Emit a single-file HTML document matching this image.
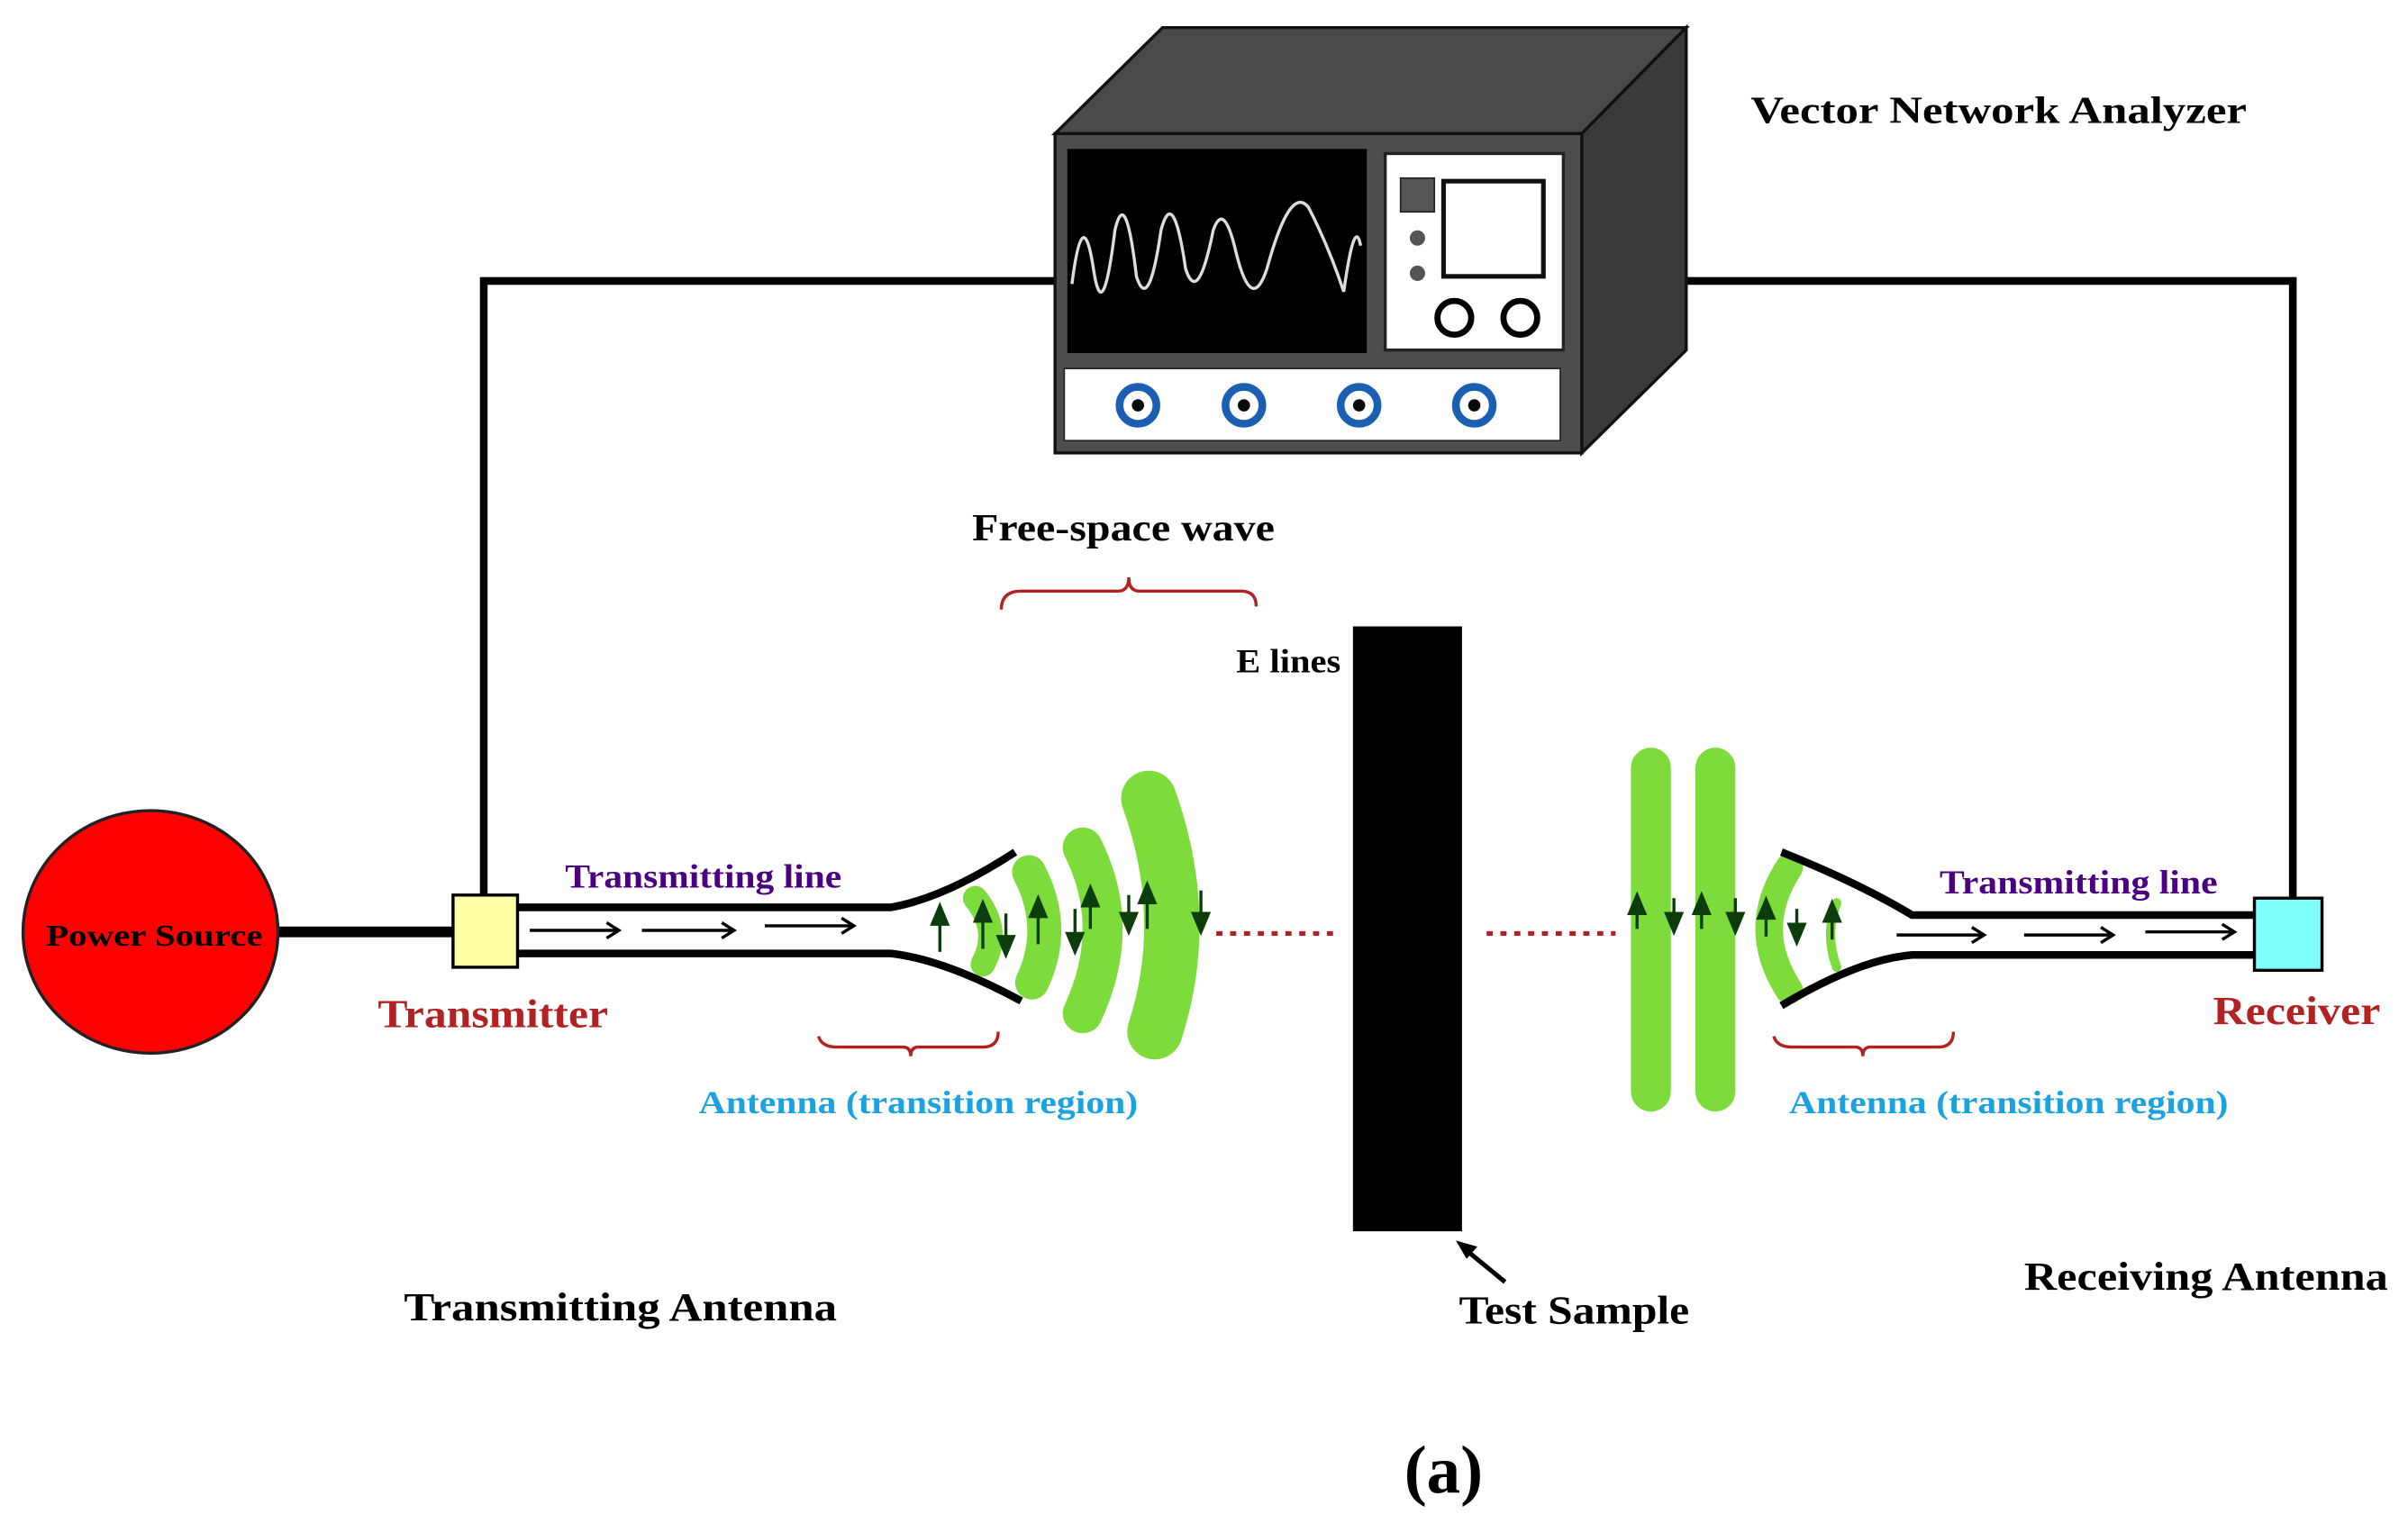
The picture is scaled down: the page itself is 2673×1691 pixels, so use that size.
<!DOCTYPE html>
<html><head><meta charset="utf-8"><style>
html,body{margin:0;padding:0;background:#fff;}
svg{display:block;}
text{font-family:"Liberation Serif",serif;font-weight:bold;}
</style></head><body>
<svg width="2673" height="1691" viewBox="0 0 1568 992" preserveAspectRatio="none" xmlns="http://www.w3.org/2000/svg">
<rect width="1568" height="992" fill="#fff"/>
<!-- wires -->
<polyline points="315,585 315,183 690,183" fill="none" stroke="#000" stroke-width="5"/>
<polyline points="1095,183 1493,183 1493,585" fill="none" stroke="#000" stroke-width="5"/>
<!-- VNA -->
<polygon points="687,87 757,18 1098,18 1030,87" fill="#4a4a4a" stroke="#111" stroke-width="2"/>
<polygon points="1030,87 1098,18 1098,228 1030,295" fill="#3a3a3a" stroke="#111" stroke-width="2"/>
<rect x="687" y="87" width="343" height="208" fill="#4d4d4d" stroke="#111" stroke-width="2"/>
<rect x="695" y="97" width="195" height="133" fill="#000"/>
<path d="M698,185 Q705,130 712,175 Q718,215 726,150 Q733,120 740,180 Q748,205 756,150 Q764,120 772,175 Q780,200 790,150 Q797,130 805,165 Q815,205 825,175 Q840,120 852,135 Q865,160 875,190 Q882,140 886,160" fill="none" stroke="#ddd" stroke-width="2"/>
<rect x="902" y="100" width="116" height="128" fill="#fff" stroke="#222" stroke-width="2"/>
<rect x="912" y="116" width="22" height="22" fill="#555" stroke="#222"/>
<circle cx="923" cy="155" r="5" fill="#555"/>
<circle cx="923" cy="178" r="5" fill="#555"/>
<rect x="940" y="118" width="65" height="62" fill="#fff" stroke="#111" stroke-width="3"/>
<circle cx="947" cy="207" r="11" fill="#fff" stroke="#000" stroke-width="4"/>
<circle cx="990" cy="207" r="11" fill="#fff" stroke="#000" stroke-width="4"/>
<rect x="693" y="240" width="323" height="47" fill="#fff" stroke="#222"/>
<g fill="#fff" stroke="#1a5fb4" stroke-width="5">
<circle cx="741" cy="264" r="12"/><circle cx="810" cy="264" r="12"/><circle cx="885" cy="264" r="12"/><circle cx="960" cy="264" r="12"/>
</g>
<g fill="#0a0a0a"><circle cx="741" cy="264" r="4"/><circle cx="810" cy="264" r="4"/><circle cx="885" cy="264" r="4"/><circle cx="960" cy="264" r="4"/></g>
<text x="1140" y="80" font-size="25" textLength="323" lengthAdjust="spacingAndGlyphs">Vector Network Analyzer</text>
<!-- power source -->
<line x1="180" y1="607" x2="296" y2="607" stroke="#000" stroke-width="7"/>
<ellipse cx="98" cy="607" rx="83" ry="79" fill="#f00" stroke="#222" stroke-width="2"/>
<text x="30" y="616" font-size="20" textLength="141" lengthAdjust="spacingAndGlyphs">Power Source</text>
<!-- green waves -->
<g fill="none" stroke="#7ddb3c" stroke-linecap="round">
<path d="M635,585 Q652,606 640,628" stroke-width="16"/>
<path d="M670,568 Q689,604 672,640" stroke-width="22"/>
<path d="M705,552 Q731,604 705,660" stroke-width="26"/>
<path d="M748,520 Q776,598 752,672" stroke-width="36"/>
</g>
<!-- transmitting line -->
<path d="M337,591 L580,591 Q615,585 661,555" fill="none" stroke="#000" stroke-width="5"/>
<path d="M337,621 L580,621 Q615,625 665,652" fill="none" stroke="#000" stroke-width="5"/>
<g stroke="#000" stroke-width="2" fill="none">
<path d="M345,606 H403 M395,601 L403,606 L395,611"/>
<path d="M418,606 H478 M470,601 L478,606 L470,611"/>
<path d="M498,603 H556 M548,598 L556,603 L548,608"/>
</g>
<rect x="295" y="583" width="42" height="47" fill="#ffffa8" stroke="#000" stroke-width="2"/>
<text x="368" y="578" font-size="22" fill="#4b0082" textLength="180" lengthAdjust="spacingAndGlyphs">Transmitting line</text>
<text x="246" y="669" font-size="26" fill="#b22222" textLength="150" lengthAdjust="spacingAndGlyphs">Transmitter</text>
<g stroke="#0d3d0d" stroke-width="2" fill="#0d3d0d">
<path d="M612,620 V592"/><polygon points="607,602 612,590 617,602"/>
<path d="M640,618 V590"/><polygon points="635,600 640,588 645,600"/>
<path d="M655,595 V620"/><polygon points="650,610 655,622 660,610"/>
<path d="M676,615 V587"/><polygon points="671,597 676,585 681,597"/>
<path d="M700,592 V618"/><polygon points="695,608 700,620 705,608"/>
<path d="M710,605 V580"/><polygon points="705,590 710,578 715,590"/>
<path d="M735,583 V605"/><polygon points="730,595 735,607 740,595"/>
<path d="M747,605 V578"/><polygon points="742,588 747,576 752,588"/>
<path d="M782,580 V605"/><polygon points="777,595 782,607 787,595"/>
</g>
<line x1="792" y1="608" x2="872" y2="608" stroke="#b22222" stroke-width="3" stroke-dasharray="4,5"/>
<line x1="968" y1="608" x2="1052" y2="608" stroke="#b22222" stroke-width="3" stroke-dasharray="4,5"/>
<!-- braces -->
<path d="M652,397 Q652,385 665,385 L728,385 Q735,385 735,376 Q735,385 742,385 L808,385 Q818,385 818,395" fill="none" stroke="#b22222" stroke-width="2"/>
<path d="M533,675 Q535,682 545,682 L588,682 Q593,682 593,688 Q593,682 598,682 L640,682 Q650,682 650,672" fill="none" stroke="#b22222" stroke-width="2"/>
<path d="M1155,675 Q1157,682 1167,682 L1208,682 Q1213,682 1213,688 Q1213,682 1218,682 L1262,682 Q1272,682 1272,672" fill="none" stroke="#b22222" stroke-width="2"/>
<text x="633" y="352" font-size="25" textLength="197" lengthAdjust="spacingAndGlyphs">Free-space wave</text>
<text x="805" y="438" font-size="22" textLength="68" lengthAdjust="spacingAndGlyphs">E lines</text>
<text x="455" y="725" font-size="21" fill="#1aa3e0" font-weight="normal" textLength="286" lengthAdjust="spacingAndGlyphs">Antenna (transition region)</text>
<!-- test sample -->
<rect x="881" y="408" width="71" height="394" fill="#000"/>
<path d="M980,835 L952,812" stroke="#000" stroke-width="3"/>
<polygon points="948,808 962,812 955,820" fill="#000"/>
<text x="950" y="862" font-size="26" textLength="150" lengthAdjust="spacingAndGlyphs">Test Sample</text>
<text x="263" y="860" font-size="26" textLength="282" lengthAdjust="spacingAndGlyphs">Transmitting Antenna</text>
<text x="1318" y="840" font-size="26" textLength="237" lengthAdjust="spacingAndGlyphs">Receiving Antenna</text>
<!-- receiving -->
<rect x="1062" y="487" width="26" height="237" rx="13" fill="#7ddb3c"/>
<rect x="1104" y="487" width="26" height="237" rx="13" fill="#7ddb3c"/>
<g fill="none" stroke="#7ddb3c" stroke-linecap="round">
<path d="M1165,565 Q1139,605 1165,645" stroke-width="18"/>
<path d="M1196,588 Q1188,609 1196,630" stroke-width="6"/>
</g>
<path d="M1160,555 Q1210,575 1245,596 L1468,596" fill="none" stroke="#000" stroke-width="5"/>
<path d="M1160,655 Q1210,625 1245,622 L1468,622" fill="none" stroke="#000" stroke-width="5"/>
<g stroke="#0d3d0d" stroke-width="2" fill="#0d3d0d">
<path d="M1066,605 V585"/><polygon points="1061,595 1066,583 1071,595"/>
<path d="M1090,585 V605"/><polygon points="1085,595 1090,607 1095,595"/>
<path d="M1108,605 V585"/><polygon points="1103,595 1108,583 1113,595"/>
<path d="M1130,585 V605"/><polygon points="1125,595 1130,607 1135,595"/>
<path d="M1150,610 V588"/><polygon points="1145,598 1150,586 1155,598"/>
<path d="M1170,592 V612"/><polygon points="1165,602 1170,614 1175,602"/>
<path d="M1193,612 V590"/><polygon points="1188,600 1193,588 1198,600"/>
</g>
<g stroke="#000" stroke-width="2" fill="none">
<path d="M1235,609 H1292 M1284,604 L1292,609 L1284,614"/>
<path d="M1318,609 H1376 M1368,604 L1376,609 L1368,614"/>
<path d="M1397,607 H1455 M1447,602 L1455,607 L1447,612"/>
</g>
<rect x="1468" y="585" width="44" height="47" fill="#80ffff" stroke="#000" stroke-width="2"/>
<text x="1263" y="582" font-size="22" fill="#4b0082" textLength="181" lengthAdjust="spacingAndGlyphs">Transmitting line</text>
<text x="1441" y="667" font-size="26" fill="#b22222" textLength="109" lengthAdjust="spacingAndGlyphs">Receiver</text>
<text x="1165" y="725" font-size="21" fill="#1aa3e0" font-weight="normal" textLength="286" lengthAdjust="spacingAndGlyphs">Antenna (transition region)</text>
<text x="940" y="972" font-size="44" text-anchor="middle">(a)</text>
</svg>
</body></html>
